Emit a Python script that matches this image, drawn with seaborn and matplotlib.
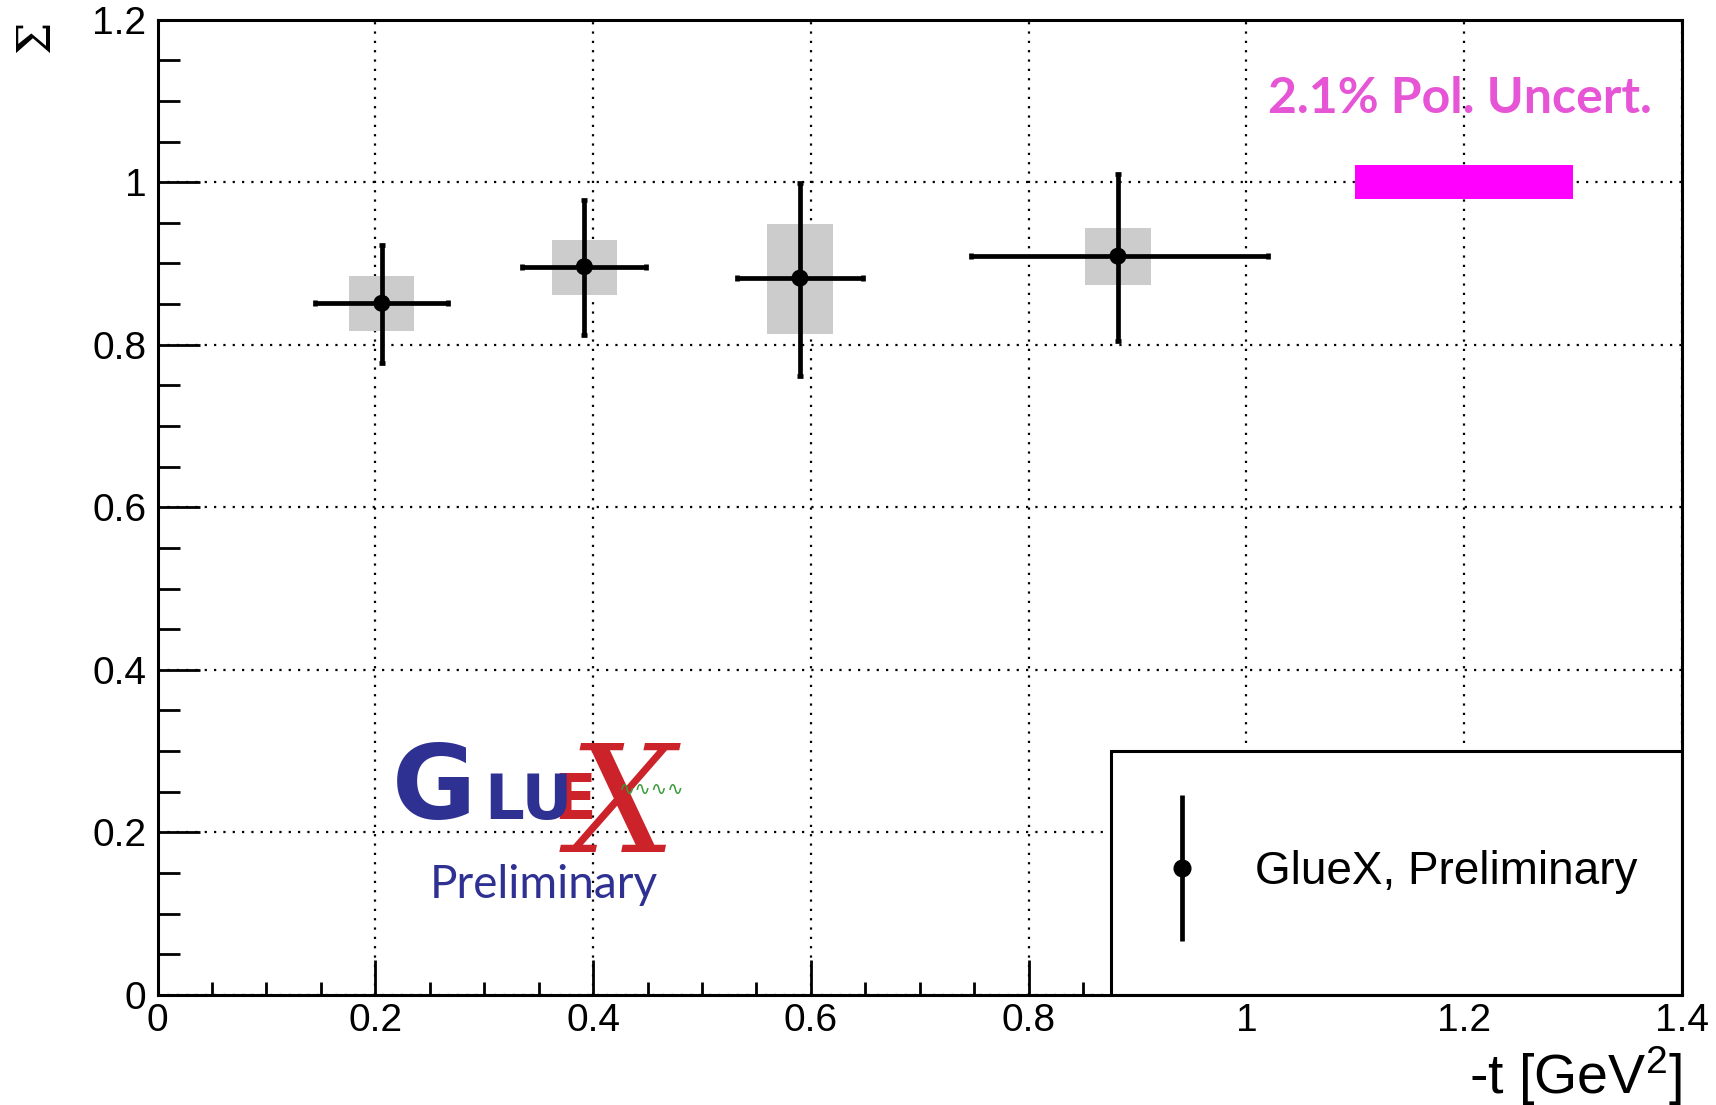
import numpy as np
import pandas as pd
import matplotlib
matplotlib.use("Agg")
import matplotlib.pyplot as plt
import seaborn as sns
from matplotlib.patches import Rectangle
from matplotlib.legend_handler import HandlerErrorbar
from matplotlib.ticker import MultipleLocator

# ---------------- data ----------------
t_vals = [0.206, 0.392, 0.590, 0.882]
sigma_vals = [0.851, 0.896, 0.882, 0.909]
t_lo = [0.145, 0.335, 0.532, 0.747]
t_hi = [0.267, 0.449, 0.648, 1.020]
stat_lo = [0.778, 0.812, 0.762, 0.805]
stat_hi = [0.923, 0.978, 0.999, 1.010]
sys_lo = [0.817, 0.861, 0.813, 0.873]
sys_hi = [0.885, 0.929, 0.949, 0.944]
sys_width = 0.06

pol_center = 1.0
pol_uncert = 0.021
pol_x = [1.1, 1.3]
pol_label = "2.1% Pol. Uncert."

x_ticks = [0, 0.2, 0.4, 0.6, 0.8, 1.0, 1.2, 1.4]
x_ticklabels = ["0", "0.2", "0.4", "0.6", "0.8", "1", "1.2", "1.4"]
y_ticks = [0, 0.2, 0.4, 0.6, 0.8, 1.0, 1.2]
y_ticklabels = ["0", "0.2", "0.4", "0.6", "0.8", "1", "1.2"]

series_label = "GlueX, Preliminary"
x_label = "-t [GeV$^{2}$]"
y_label = "Σ"

df = pd.DataFrame({"t": t_vals, "sigma": sigma_vals})

# ---------------- style ----------------
sns.set_style("white")
plt.rcParams["font.family"] = ["Liberation Sans", "DejaVu Sans"]
plt.rcParams["mathtext.default"] = "regular"
for k in ["text.color", "axes.labelcolor", "xtick.color", "ytick.color"]:
    plt.rcParams[k] = "black"

W, H = 1716, 1105
fig = plt.figure(figsize=(W / 100, H / 100), dpi=100)
L, R, T, B = 157.5, 1682, 19.7, 994.8
ax = fig.add_axes([L / W, 1 - B / H, (R - L) / W, (B - T) / H])

def fx(px):
    return px / W

def fy(py):
    return 1 - py / H

# systematic boxes
ax.bar(t_vals, np.array(sys_hi) - np.array(sys_lo), bottom=sys_lo,
       width=sys_width, color="#cccccc", linewidth=0, zorder=2)

# statistical error bars
xerr = [np.array(t_vals) - np.array(t_lo), np.array(t_hi) - np.array(t_vals)]
yerr = [np.array(sigma_vals) - np.array(stat_lo), np.array(stat_hi) - np.array(sigma_vals)]
ax.errorbar(t_vals, sigma_vals, xerr=xerr, yerr=yerr, fmt="none",
            ecolor="black", elinewidth=3.4, capsize=2.5, capthick=3.4, zorder=4)
sns.scatterplot(data=df, x="t", y="sigma", color="black", s=150,
                edgecolor="none", ax=ax, zorder=5, legend=False)

# polarization uncertainty band
ax.fill_between(pol_x, pol_center - pol_uncert, pol_center + pol_uncert,
                color="#ff00ff", linewidth=0, zorder=3)
ax.text(1.196, 1.085, pol_label, color="#e655d6", fontsize=36,
        fontweight="bold", family=["Lato", "DejaVu Sans"],
        ha="center", va="baseline", zorder=6)

# axes
ax.set_xlim(0, 1.4)
ax.set_ylim(0, 1.2)
ax.set_xticks(x_ticks)
ax.set_xticklabels(x_ticklabels)
ax.set_yticks(y_ticks)
ax.set_yticklabels(y_ticklabels)
ax.xaxis.set_minor_locator(MultipleLocator(0.05))
ax.yaxis.set_minor_locator(MultipleLocator(0.05))
ax.tick_params(axis="both", which="both", direction="in", width=2.0,
               bottom=True, left=True, top=False, right=False,
               labelsize=28, color="black", labelcolor="black")
ax.tick_params(axis="x", which="major", length=25, pad=6)
ax.tick_params(axis="x", which="minor", length=9.5)
ax.tick_params(axis="y", which="major", length=30, pad=8)
ax.tick_params(axis="y", which="minor", length=16)
for s in ax.spines.values():
    s.set_linewidth(2.2)
    s.set_color("black")
    s.set_visible(True)
ax.set_axisbelow(True)
ax.grid(True, which="major", color="black", linewidth=1.6,
        linestyle=(0, (1, 3.2)))

ax.set_xlabel(x_label, fontsize=40, loc="right")
ax.xaxis.set_label_coords(1.0, -0.051)
ax.set_ylabel(y_label, fontsize=33, family=["DejaVu Serif"], rotation=90)
ax.yaxis.label.set_va("center")
ax.yaxis.set_label_coords((36 - L) / (R - L), (B - 37) / (B - T))

# legend box
box_x0 = (1111 - L) / (R - L)
box_y1 = (B - 751) / (B - T)
ax.add_patch(Rectangle((box_x0, 0), 1 - box_x0, box_y1, transform=ax.transAxes,
                       facecolor="white", edgecolor="black", linewidth=2.2,
                       zorder=2.4))
h = ax.errorbar([], [], yerr=[], fmt="o", color="black", ms=12,
                elinewidth=3.4, capsize=0)
ax.legend([h], [series_label], frameon=False, fontsize=33,
          loc="center left", bbox_to_anchor=((1159 - L) / (R - L), (B - 872) / (B - T)),
          borderpad=0, borderaxespad=0, handlelength=1.0, handletextpad=1.1,
          handler_map={type(h): HandlerErrorbar(yerr_size=1.6)})

# GlueX logo
blue = "#2e3192"
red = "#cc2229"
fig.text(fx(392), fy(819), "G", color=blue, fontsize=74, fontweight="bold",
         family=["DejaVu Sans"], ha="left", va="baseline")
fig.text(fx(484), fy(819), "LU", color=blue, fontsize=45, fontweight="bold",
         family=["DejaVu Sans"], ha="left", va="baseline")
fig.text(fx(622), fy(810), "X", color=red, fontsize=108, style="italic",
         family=["DejaVu Serif"], ha="center", va="center", zorder=1)
fig.text(fx(553), fy(819), "E", color=red, fontsize=45, fontweight="bold",
         family=["DejaVu Sans"], ha="left", va="baseline", zorder=2)
fig.text(fx(652), fy(790), "∿∿∿∿", color="#3a9a3a", fontsize=14,
         family=["DejaVu Sans"], ha="center", va="center")
fig.text(fx(430), fy(898), "Preliminary", color=blue, fontsize=33,
         family=["Lato", "DejaVu Sans"], ha="left", va="baseline")

fig.savefig("out.png", dpi=100)
